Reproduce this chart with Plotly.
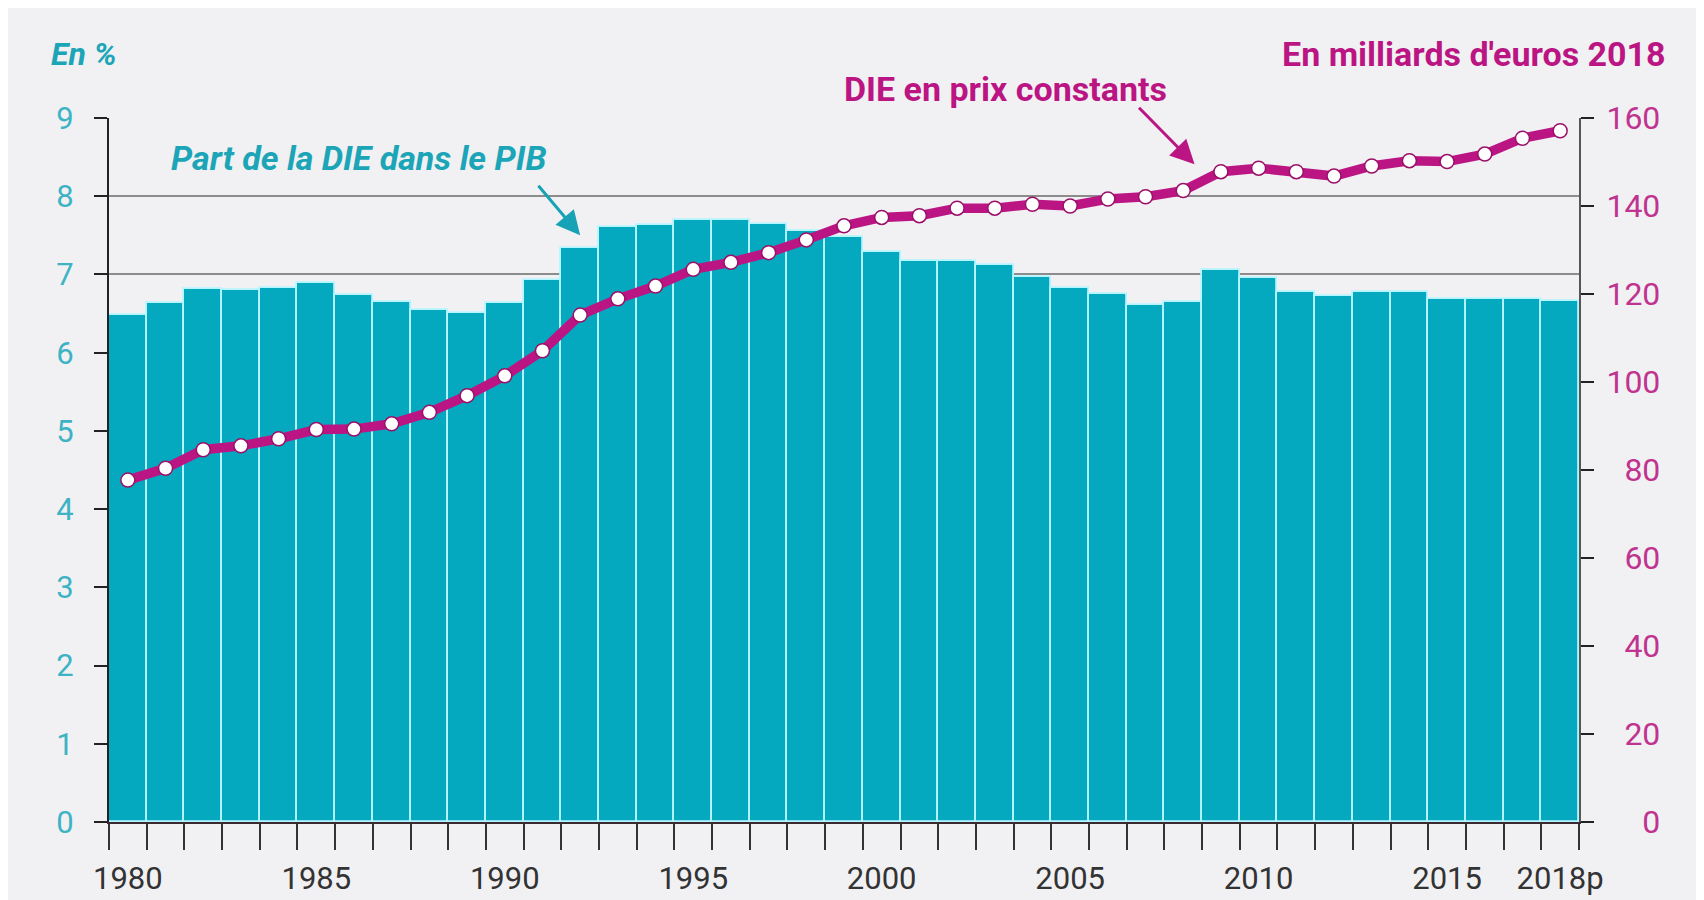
import plotly.graph_objects as go

years = [str(y) for y in range(1980, 2019)]
shown_labels = {"1980": "1980", "1985": "1985", "1990": "1990", "1995": "1995",
                "2000": "2000", "2005": "2005", "2010": "2010", "2015": "2015",
                "2018": "2018p"}
tick_text = [shown_labels.get(y, "") for y in years]

# Part de la DIE dans le PIB (en %)
part_pib = [6.48, 6.63, 6.82, 6.80, 6.83, 6.89, 6.74, 6.65, 6.54, 6.51,
            6.63, 6.93, 7.34, 7.61, 7.63, 7.70, 7.70, 7.65, 7.55, 7.48,
            7.29, 7.17, 7.17, 7.12, 6.97, 6.83, 6.75, 6.61, 6.65, 7.06,
            6.95, 6.77, 6.72, 6.77, 6.77, 6.68, 6.68, 6.68, 6.66]

# DIE en prix constants (milliards d'euros 2018)
die_const = [77.7, 80.4, 84.6, 85.5, 87.1, 89.2, 89.3, 90.5, 93.1, 96.9,
             101.4, 107.1, 115.2, 118.9, 121.8, 125.6, 127.2, 129.4, 132.3, 135.5,
             137.4, 137.8, 139.5, 139.5, 140.4, 140.0, 141.6, 142.1, 143.5, 147.8,
             148.6, 147.8, 146.8, 149.1, 150.3, 150.1, 151.8, 155.4, 157.1]

left_ticks = list(range(0, 10))
right_ticks = list(range(0, 161, 20))
right_tick_text = [("\u2007" * (3 - len(str(v)))) + str(v) for v in right_ticks]

TEAL = "#05a9bf"
TEAL_TXT = "#1ba5b7"
MAGENTA = "#bb1583"
BG = "#f1f1f4"
FONT = "Roboto"

fig = go.Figure()
fig.add_trace(go.Bar(
    x=years, y=part_pib, name="Part de la DIE dans le PIB",
    marker=dict(color=TEAL, line=dict(color="#b4f5ff", width=1.8)),
    yaxis="y"))
fig.add_trace(go.Scatter(
    x=years, y=die_const, name="DIE en prix constants", mode="lines+markers",
    line=dict(color=MAGENTA, width=9.5),
    marker=dict(color="white", size=14, line=dict(color="#9a1068", width=1.5)),
    yaxis="y2"))

fig.update_layout(
    width=1704, height=900,
    margin=dict(l=101, r=133, t=110, b=86),
    paper_bgcolor=BG, plot_bgcolor=BG,
    showlegend=False, bargap=0,
    font=dict(family=FONT),
    xaxis=dict(
        type="category", tickvals=years, ticktext=tick_text,
        range=[-0.5, len(years) - 0.5], automargin=False, tickangle=0,
        tickson="boundaries", ticks="outside", ticklen=26, tickwidth=2,
        tickcolor="#333333", showline=True, linecolor="#3a2a30", linewidth=2,
        showgrid=False, tickfont=dict(family=FONT, size=31, color="#333333"),
        ticklabelstandoff=28),
    yaxis=dict(
        range=[0, 9], tickvals=left_ticks, ticks="outside", ticklen=13,
        automargin=False,
        tickwidth=2, tickcolor="#222222", showline=True, linecolor="#222222",
        linewidth=2, showgrid=True, gridcolor="#8c8c8c", gridwidth=1.5,
        zeroline=False, tickfont=dict(family=FONT, size=31, color="#3db3c4"),
        ticklabelstandoff=14),
    yaxis2=dict(
        range=[0, 160], overlaying="y", side="right", tickvals=right_ticks,
        automargin=False,
        ticktext=right_tick_text, ticks="outside", ticklen=13, tickwidth=2,
        tickcolor="#222222", showline=True, linecolor="#555555", linewidth=2,
        showgrid=False, zeroline=False,
        tickfont=dict(family=FONT, size=32, color="#c0338f"),
        ticklabelstandoff=6),
)

fig.add_annotation(text="<b><i>En %</i></b>", xref="paper", yref="paper",
                   x=-0.041, y=1.091, xanchor="left", yanchor="middle",
                   showarrow=False, font=dict(family=FONT, size=32, color=TEAL_TXT))
fig.add_annotation(text="<b>En milliards d'euros 2018</b>", xref="paper", yref="paper",
                   x=1.0605, y=1.091, xanchor="right", yanchor="middle",
                   showarrow=False, font=dict(family=FONT, size=34, color=MAGENTA))
fig.add_annotation(text="<b>DIE en prix constants</b>", xref="paper", yref="paper",
                   x=0.61, y=1.041, xanchor="center", yanchor="middle",
                   showarrow=False, font=dict(family=FONT, size=34, color=MAGENTA))
fig.add_annotation(text="<b><i>Part de la DIE dans le PIB</i></b>", xref="paper", yref="paper",
                   x=0.17, y=0.943, xanchor="center", yanchor="middle",
                   showarrow=False, font=dict(family=FONT, size=34, color=TEAL_TXT))
# arrows
fig.add_annotation(x=28.3, y=149.5, xref="x", yref="y2", text="", showarrow=True,
                   ax=-57, ay=-58, arrowhead=2, arrowsize=1.6, arrowwidth=3,
                   arrowcolor=MAGENTA, standoff=0)
fig.add_annotation(x=12, y=7.5, xref="x", yref="y", text="", showarrow=True,
                   ax=-43, ay=-51, arrowhead=2, arrowsize=1.6, arrowwidth=3,
                   arrowcolor="#17a2b5", standoff=0)

fig.write_html("out.html")
